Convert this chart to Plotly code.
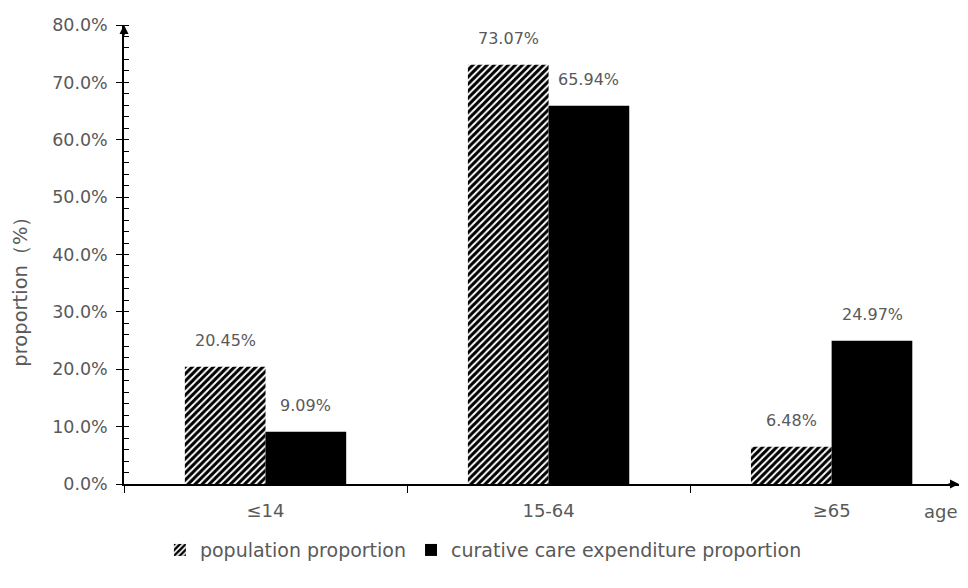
import plotly.graph_objects as go

categories = ["≤14", "15-64", "≥65"]
population = [20.45, 73.07, 6.48]
expenditure = [9.09, 65.94, 24.97]
pop_labels = ["20.45%", "73.07%", "6.48%"]
exp_labels = ["9.09%", "65.94%", "24.97%"]
y_ticks = [0, 10, 20, 30, 40, 50, 60, 70, 80]
y_tick_labels = ["0.0%", "10.0%", "20.0%", "30.0%", "40.0%", "50.0%", "60.0%", "70.0%", "80.0%"]

TXT = "#595959"
FONT = "DejaVu Sans"

fig = go.Figure()
fig.add_trace(go.Bar(
    name="population proportion", x=categories, y=population,
    marker=dict(color="white", line=dict(color="black", width=0),
                pattern=dict(shape="/", fgcolor="black", bgcolor="white", size=5,
                             solidity=0.6, fgopacity=1)),
))
fig.add_trace(go.Bar(
    name="curative care expenditure proportion", x=categories, y=expenditure,
    marker=dict(color="black", line=dict(color="black", width=0)),
))

half = 283.5 * (1 - 0.43) / 4
for cat, v, t in zip(categories, population, pop_labels):
    fig.add_annotation(x=cat, y=v, xref="x", yref="y", text=t, showarrow=False,
                       xshift=-half, yshift=26, font=dict(size=16, color=TXT, family=FONT))
for cat, v, t in zip(categories, expenditure, exp_labels):
    fig.add_annotation(x=cat, y=v, xref="x", yref="y", text=t, showarrow=False,
                       xshift=half, yshift=26, font=dict(size=16, color=TXT, family=FONT))

fig.update_layout(
    width=960, height=580,
    margin=dict(l=116, r=9, t=17, b=104, autoexpand=False),
    plot_bgcolor="white", paper_bgcolor="white",
    barmode="group", bargap=0.43, bargroupgap=0,
    font=dict(family=FONT, color=TXT, size=16),
    legend=dict(orientation="h", x=0.043, xanchor="left", y=-0.144, yanchor="middle",
                font=dict(size=19, color=TXT, family=FONT), itemwidth=30,
                traceorder="normal", itemsizing="constant"),
    xaxis=dict(range=[-0.5, 2.45], showline=True, linecolor="black", linewidth=1.5,
               ticks="outside", tickson="boundaries", ticklen=7, tickcolor="black",
               tickfont=dict(size=18, color=TXT), showgrid=False, zeroline=False,
               automargin=False, ticklabelstandoff=10),
    yaxis=dict(range=[0, 80], showline=True, linecolor="black", linewidth=1.5,
               tickvals=y_ticks, ticktext=y_tick_labels, ticks="outside", ticklen=6,
               tickcolor="black", tickfont=dict(size=17.5, color=TXT),
               minor=dict(dtick=2, ticks="inside", ticklen=5, tickcolor="black", showgrid=False),
               showgrid=False, zeroline=False, automargin=False, ticklabelstandoff=5),
)

fig.add_annotation(xref="paper", yref="paper", x=0, xshift=-103, y=0.43,
                   text="proportion（%）", textangle=-90, showarrow=False,
                   xanchor="center", yanchor="middle",
                   font=dict(size=19.5, color=TXT, family=FONT))
fig.add_annotation(xref="paper", yref="paper", x=1.0, y=0, ax=-12, ay=0,
                   showarrow=True, arrowhead=2, arrowsize=1.2, arrowwidth=1.5,
                   arrowcolor="black", text="")
fig.add_annotation(xref="paper", yref="paper", x=0, y=1.0, ax=0, ay=12,
                   showarrow=True, arrowhead=2, arrowsize=1.2, arrowwidth=1.5,
                   arrowcolor="black", text="")
fig.add_annotation(xref="paper", yref="paper", x=0.979, y=0, yshift=-27,
                   showarrow=False, text="age", font=dict(size=18, color=TXT),
                   xanchor="center", yanchor="middle")

fig.write_html("out.html")
